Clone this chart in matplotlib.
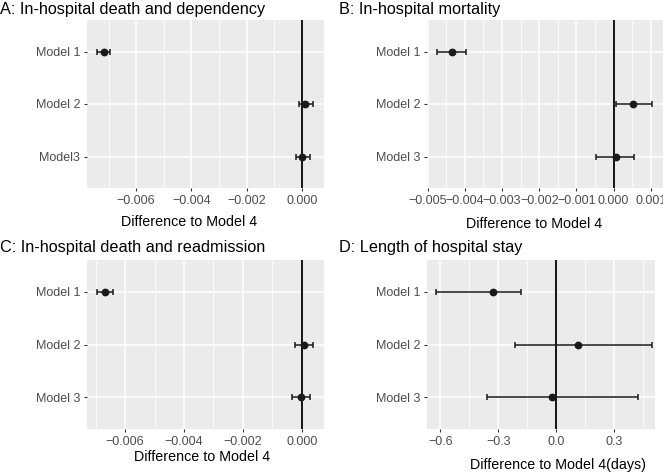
import numpy as np
import matplotlib.pyplot as plt
from matplotlib.ticker import FixedLocator, FuncFormatter, MultipleLocator

plt.rcParams['font.family'] = ['Liberation Sans', 'DejaVu Sans']

# panel data: point estimate and confidence limits, top row first
labels_a = ["Model 1", "Model 2", "Model3"]
est_a = [-0.00716, 0.00012, 0.0]
lo_a = [-0.00743, -0.00010, -0.00023]
hi_a = [-0.00694, 0.00040, 0.00031]

labels_b = ["Model 1", "Model 2", "Model 3"]
est_b = [-0.00435, 0.00052, 0.00006]
lo_b = [-0.00476, 0.00006, -0.00046]
hi_b = [-0.00396, 0.00104, 0.00056]

labels_c = ["Model 1", "Model 2", "Model 3"]
est_c = [-0.00668, 0.00006, -0.00003]
lo_c = [-0.00696, -0.00025, -0.00034]
hi_c = [-0.00640, 0.00037, 0.00029]

labels_d = ["Model 1", "Model 2", "Model 3"]
est_d = [-0.328, 0.112, -0.021]
lo_d = [-0.620, -0.212, -0.361]
hi_d = [-0.183, 0.496, 0.423]

W, H = 663, 474
fig = plt.figure(figsize=(W / 100, H / 100), dpi=100)


def px_axes(x0, y0, x1, y1):
    return fig.add_axes([x0 / W, 1 - y1 / H, (x1 - x0) / W, (y1 - y0) / H])


def fmt(decimals):
    def f(v, pos):
        s = f"{v:.{decimals}f}"
        if float(s) == 0:
            s = s.lstrip("-")
        return s.replace("-", "\u2212")
    return FuncFormatter(f)


def panel(ax, labels, est, lo, hi, xlim, ticks, step, decimals):
    est = np.array(est)
    err = [est - np.array(lo), np.array(hi) - est]
    y = np.arange(len(labels))
    ax.set_facecolor("#EBEBEB")
    for s in ax.spines.values():
        s.set_visible(False)
    ax.set_xlim(*xlim)
    ax.set_ylim(len(labels) - 0.4, -0.6)
    ax.xaxis.set_major_locator(FixedLocator(ticks))
    ax.xaxis.set_minor_locator(MultipleLocator(step / 2))
    ax.xaxis.set_major_formatter(fmt(decimals))
    ax.set_yticks(y)
    ax.set_yticklabels(labels)
    ax.grid(which="major", color="white", lw=1.1)
    ax.grid(which="minor", axis="x", color="white", lw=0.55)
    ax.set_axisbelow(True)
    ax.tick_params(which="major", length=2.5, width=0.8, color="#333333",
                   labelcolor="#4D4D4D", labelsize=9, pad=2.5)
    ax.tick_params(which="minor", length=0)
    ax.axvline(0, color="#1A1A1A", lw=1.45, zorder=2)
    ax.errorbar(est, y, xerr=err, fmt="o", color="#1A1A1A", ms=4.6,
                elinewidth=1.1, capsize=2.2, capthick=1.1, zorder=3)


ax_a = px_axes(87, 20, 324, 188)
panel(ax_a, labels_a, est_a, lo_a, hi_a, (-0.00778, 0.0008),
      [-0.006, -0.004, -0.002, 0.0], 0.002, 3)
ax_b = px_axes(427, 20, 663, 188)
panel(ax_b, labels_b, est_b, lo_b, hi_b, (-0.00502, 0.00133),
      [-0.005, -0.004, -0.003, -0.002, -0.001, 0.0, 0.001], 0.001, 3)
ax_c = px_axes(87, 260, 324, 429)
panel(ax_c, labels_c, est_c, lo_c, hi_c, (-0.00729, 0.00075),
      [-0.006, -0.004, -0.002, 0.0], 0.002, 3)
ax_d = px_axes(427, 260, 655, 429)
panel(ax_d, labels_d, est_d, lo_d, hi_d, (-0.669, 0.511),
      [-0.6, -0.3, 0.0, 0.3], 0.3, 1)

titles = [("A: In-hospital death and dependency", 0, 14),
          ("B: In-hospital mortality", 339, 14),
          ("C: In-hospital death and readmission", 0, 252),
          ("D: Length of hospital stay", 339, 252)]
for t, x, yb in titles:
    fig.text(x / W, 1 - yb / H, t, fontsize=11.7, ha="left", va="baseline")

xlabels = [("Difference to Model 4", 189, 222),
           ("Difference to Model 4", 534, 224),
           ("Difference to Model 4", 202, 457),
           ("Difference to Model 4(days)", 558, 465)]
for t, x, yc in xlabels:
    fig.text(x / W, 1 - yc / H, t, fontsize=10.3, ha="center", va="center")

fig.savefig("out.png", dpi=100)
